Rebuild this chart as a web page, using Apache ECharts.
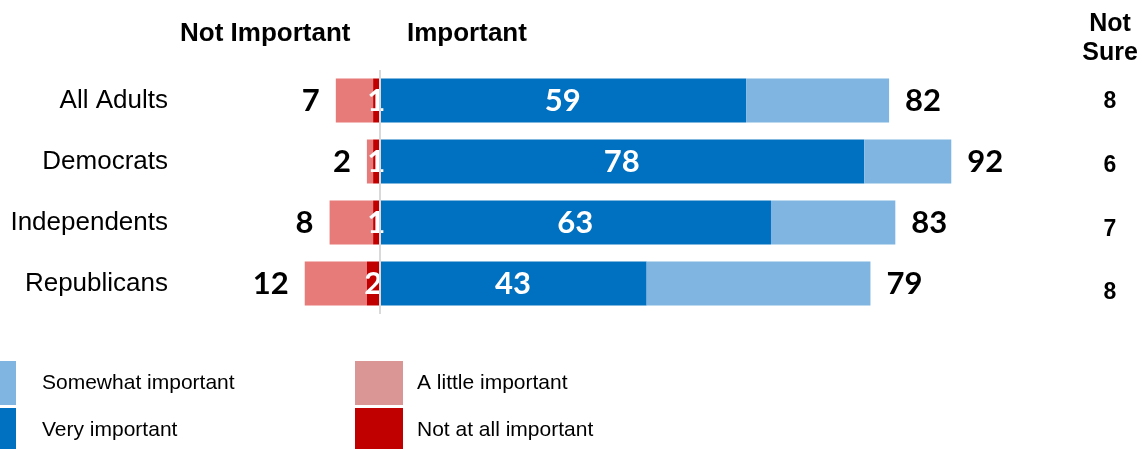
<!DOCTYPE html>
<html>
<head>
<meta charset="utf-8">
<script src="https://cdn.jsdelivr.net/npm/echarts@6/dist/echarts.min.js"></script>
<style>html,body{margin:0;padding:0;background:#fff;}#c{width:1142px;height:449px;}</style>
</head>
<body>
<div id="c"></div>
<script>
// ---- data ----
const categories = ['All Adults', 'Democrats', 'Independents', 'Republicans'];
const veryImportant = [59, 78, 63, 43];
const somewhatImportant = [23, 14, 20, 36];
const littleImportant = [6, 1, 7, 10];
const notAtAllImportant = [1, 1, 1, 2];
const importantTotal = [82, 92, 83, 79];
const notImportantTotal = [7, 2, 8, 12];
const notSure = [8, 6, 7, 8];

const ARIAL = 'Liberation Sans, Arial, sans-serif';
const NUMF = 'Lato, Open Sans, sans-serif';

const chart = echarts.init(document.getElementById('c'), null, {renderer: 'canvas'});
chart.setOption({
  animation: false,
  backgroundColor: '#ffffff',
  title: [
    {text: 'Not Important', left: 180, top: 21, padding: 0,
     textStyle: {fontFamily: ARIAL, fontSize: 26, fontWeight: 'bold', color: '#000'}},
    {text: 'Important', left: 407, top: 21, padding: 0,
     textStyle: {fontFamily: ARIAL, fontSize: 26, fontWeight: 'bold', color: '#000'}},
    {text: 'Not\nSure', left: 1110, top: 10, padding: 0, textAlign: 'center',
     textStyle: {fontFamily: ARIAL, fontSize: 25, fontWeight: 'bold', color: '#000', lineHeight: 29, align: 'center'}}
  ],
  legend: [
    {orient: 'horizontal', left: 0, top: 361, width: 240, padding: 0, itemWidth: 16, itemHeight: 44, itemGap: 3,
     icon: 'rect', selectedMode: false,
     textStyle: {fontFamily: ARIAL, fontSize: 21, color: '#000', padding: [4, 0, 0, 21]},
     data: [{name: 'Somewhat important', itemStyle: {color: '#7fb5e0'}},
            {name: 'Very important', itemStyle: {color: '#0070c0'}}]},
    {orient: 'horizontal', left: 355, top: 361, width: 280, padding: 0, itemWidth: 48, itemHeight: 44, itemGap: 3,
     icon: 'rect', selectedMode: false,
     textStyle: {fontFamily: ARIAL, fontSize: 21, color: '#000', padding: [4, 0, 0, 9]},
     data: [{name: 'A little important', itemStyle: {color: '#d99694'}},
            {name: 'Not at all important', itemStyle: {color: '#c00000'}}]}
  ],
  grid: [
    {left: 255, width: 746, top: 70, height: 244},
    {left: 1110, width: 1, top: 70, height: 255}
  ],
  xAxis: [
    {gridIndex: 0, type: 'value', min: -20, max: 100, show: false},
    {gridIndex: 1, type: 'value', min: 0, max: 1, show: false}
  ],
  yAxis: [
    {gridIndex: 0, type: 'category', data: categories, inverse: true,
     axisLine: {show: false}, axisTick: {show: false}, splitLine: {show: false},
     axisLabel: {margin: 87, fontFamily: ARIAL, fontSize: 26, color: '#000'}},
    {gridIndex: 1, type: 'category', data: notSure.map(String), inverse: true,
     axisLine: {show: false}, axisTick: {show: false}, splitLine: {show: false},
     axisLabel: {margin: 0, align: 'center', fontFamily: ARIAL, fontSize: 23, fontWeight: 'bold', color: '#000'}}
  ],
  series: [
    {name: 'Not at all important', type: 'bar', stack: 'all', barWidth: 44,
     data: notAtAllImportant.map(v => -v),
     itemStyle: {color: '#c00000'},
     label: {show: true, position: 'inside', formatter: p => notAtAllImportant[p.dataIndex],
             fontFamily: NUMF, fontSize: 31, fontWeight: 'bold', color: '#fff'},
     labelLayout: {hideOverlap: false}, z: 3},
    {name: 'A little important', type: 'bar', stack: 'all', barWidth: 44,
     data: littleImportant.map(v => -v),
     itemStyle: {color: '#e77b79'},
     label: {show: true, position: 'left', distance: 16, formatter: p => notImportantTotal[p.dataIndex],
             fontFamily: NUMF, fontSize: 31, fontWeight: 'bold', color: '#000'}},
    {name: 'Very important', type: 'bar', stack: 'all', barWidth: 44,
     data: veryImportant,
     itemStyle: {color: '#0070c0'},
     label: {show: true, position: 'inside', fontFamily: NUMF, fontSize: 31, fontWeight: 'bold', color: '#fff'},
     markLine: {silent: true, symbol: 'none', label: {show: false},
                lineStyle: {color: '#d9d9d9', width: 2, type: 'solid'},
                data: [{xAxis: 0}]}},
    {name: 'Somewhat important', type: 'bar', stack: 'all', barWidth: 44,
     data: somewhatImportant,
     itemStyle: {color: '#7fb5e0'},
     label: {show: true, position: 'right', distance: 16, formatter: p => importantTotal[p.dataIndex],
             fontFamily: NUMF, fontSize: 31, fontWeight: 'bold', color: '#000'}}
  ]
});
</script>
</body>
</html>
